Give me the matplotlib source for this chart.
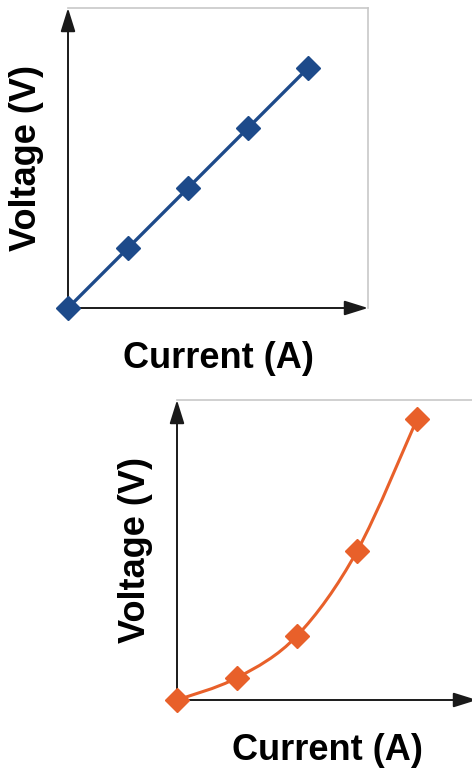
import matplotlib.pyplot as plt
from matplotlib.path import Path
from matplotlib.patches import PathPatch

# Datos
current = [0, 1, 2, 3, 4]
voltage_ohmic = [0, 1, 2, 3, 4]
voltage_nonohmic = [0, 0.37, 1.07, 2.48, 4.68]

plt.rcParams['font.family'] = ['Liberation Sans', 'DejaVu Sans']

BLUE = '#1d4a8a'
ORANGE = '#e8602a'
AXIS = '#1a1a1a'
BORDER = '#c8c8c8'

fig = plt.figure(figsize=(4.72, 7.71), dpi=100)
W, H = 472, 771


def make_axes(left, top):
    # caja de 300x300 px con el origen abajo a la izquierda
    ax = fig.add_axes([left / W, (H - top - 300) / H, 300 / W, 300 / H])
    ax.set_xlim(0, 5)
    ax.set_ylim(0, 5)
    ax.set_xticks([])
    ax.set_yticks([])
    for s in ['left', 'bottom']:
        ax.spines[s].set_visible(False)
    for s in ['top', 'right']:
        ax.spines[s].set_color(BORDER)
        ax.spines[s].set_linewidth(1.2)
    arrow = dict(arrowstyle='-|>,head_length=0.8,head_width=0.25', color=AXIS,
                 lw=1.4, mutation_scale=18, shrinkA=0, shrinkB=0)
    ax.annotate('', xy=(1.0, 0), xytext=(0, 0), xycoords='axes fraction',
                arrowprops=arrow, annotation_clip=False)
    ax.annotate('', xy=(0, 1.0), xytext=(0, 0), xycoords='axes fraction',
                arrowprops=arrow, annotation_clip=False)
    ax.set_xlabel('Current (A)', fontsize=26, fontweight='bold', labelpad=24)
    ax.set_ylabel('Voltage (V)', fontsize=26, fontweight='bold', labelpad=17)
    return ax


# Grafica 1: resistencia ohmica
ax1 = make_axes(68, 8)
ax1.plot(current, voltage_ohmic, color=BLUE, lw=2.4, marker='D',
         markersize=12, clip_on=False, zorder=5)

# Grafica 2: curva no ohmica (curva suave que pasa por los puntos)
ax2 = make_axes(177, 400)
pts = list(zip(current, voltage_nonohmic))
verts = [pts[0]]
codes = [Path.MOVETO]
for i in range(len(pts) - 1):
    p0 = pts[i - 1] if i > 0 else pts[i]
    p1 = pts[i]
    p2 = pts[i + 1]
    p3 = pts[i + 2] if i + 2 < len(pts) else pts[i + 1]
    c1 = (p1[0] + (p2[0] - p0[0]) / 6, p1[1] + (p2[1] - p0[1]) / 6)
    c2 = (p2[0] - (p3[0] - p1[0]) / 6, p2[1] - (p3[1] - p1[1]) / 6)
    verts += [c1, c2, p2]
    codes += [Path.CURVE4] * 3
ax2.add_patch(PathPatch(Path(verts, codes), facecolor='none', edgecolor=ORANGE,
                        lw=2.2, clip_on=False, zorder=4))
ax2.plot(current, voltage_nonohmic, linestyle='none', color=ORANGE, marker='D',
         markersize=12, clip_on=False, zorder=5)

plt.savefig('out.png', dpi=100)
